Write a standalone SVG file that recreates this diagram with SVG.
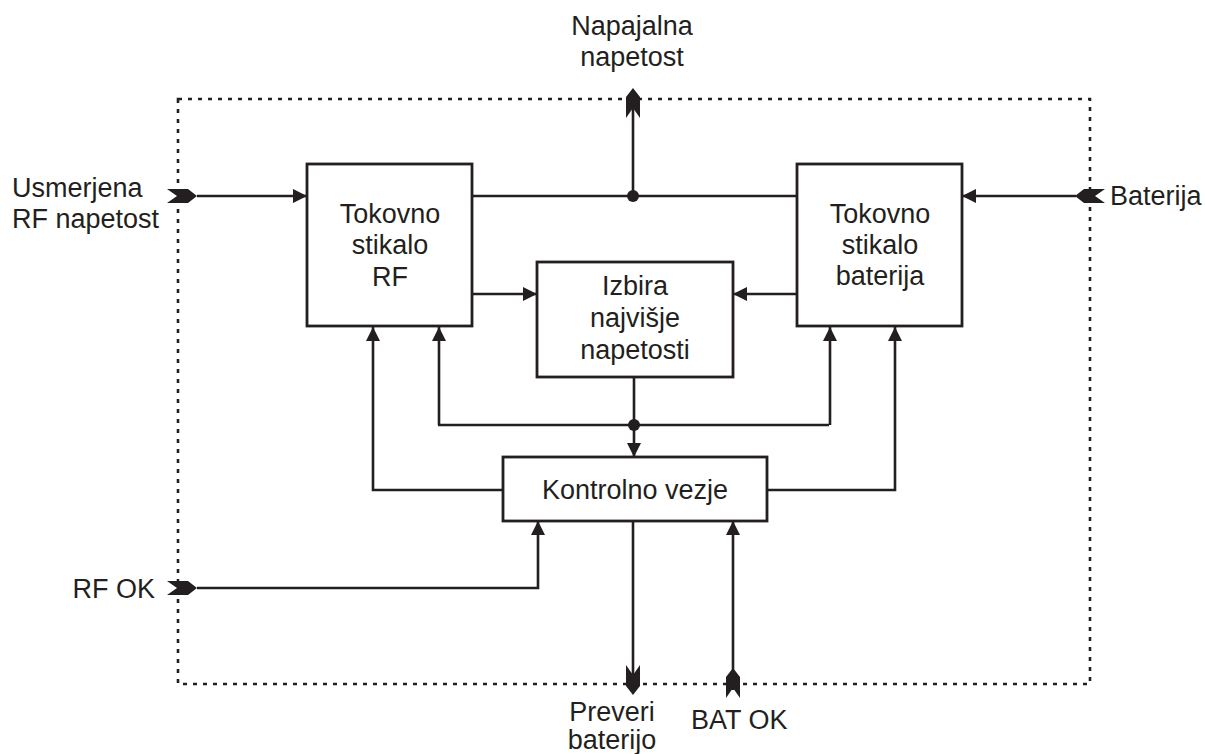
<svg xmlns="http://www.w3.org/2000/svg" width="1205" height="754" viewBox="0 0 1205 754">
<style>
.box{fill:#fff;stroke:#231f20;stroke-width:2.8}
.ln{fill:none;stroke:#231f20;stroke-width:2.6}
.bd{fill:none;stroke:#231f20;stroke-width:2.6;stroke-dasharray:4 6}
text{font-family:"Liberation Sans",Arial,sans-serif;font-size:27px;fill:#231f20}
.c{text-anchor:middle}
.e{text-anchor:end}
.dot{fill:#231f20}
.port{fill:#231f20}
</style>
<defs>
<marker id="ah" viewBox="0 0 14 14" refX="14" refY="7" markerWidth="14" markerHeight="14" markerUnits="userSpaceOnUse" orient="auto"><path d="M0,0 L14,7 L0,14 z" fill="#231f20"/></marker>
<path id="port" d="M0,0 L-9,-7 L-30,-7 L-20,0 L-30,7 L-9,7 z"/>
</defs>
<rect class="bd" x="178" y="99" width="912" height="585"/>
<g id="connectors">
<line class="ln" x1="197" y1="196" x2="307" y2="196" marker-end="url(#ah)"/>
<line class="ln" x1="472" y1="196" x2="797" y2="196"/>
<line class="ln" x1="633" y1="196" x2="633" y2="100"/>
<line class="ln" x1="1076" y1="196" x2="962" y2="196" marker-end="url(#ah)"/>
<line class="ln" x1="472" y1="294" x2="537" y2="294" marker-end="url(#ah)"/>
<line class="ln" x1="797" y1="294" x2="733" y2="294" marker-end="url(#ah)"/>
<line class="ln" x1="634" y1="377" x2="634" y2="457" marker-end="url(#ah)"/>
<polyline class="ln" points="438,425 829,425"/>
<line class="ln" x1="439" y1="425" x2="439" y2="327" marker-end="url(#ah)"/>
<line class="ln" x1="830" y1="425" x2="830" y2="327" marker-end="url(#ah)"/>
<polyline class="ln" points="503,490 373,490 373,327" marker-end="url(#ah)"/>
<polyline class="ln" points="767,490 895,490 895,327" marker-end="url(#ah)"/>
<polyline class="ln" points="197,588 538,588 538,521" marker-end="url(#ah)"/>
<line class="ln" x1="633" y1="521" x2="633" y2="690"/>
<line class="ln" x1="733" y1="690" x2="733" y2="521" marker-end="url(#ah)"/>
<circle class="dot" cx="633" cy="196" r="6"/>
<circle class="dot" cx="634" cy="425" r="6"/>
<use href="#port" class="port" transform="translate(197,196)"/>
<use href="#port" class="port" transform="translate(1075,196) rotate(180)"/>
<use href="#port" class="port" transform="translate(197,588)"/>
<use href="#port" class="port" transform="translate(633,88) rotate(-90)"/>
<use href="#port" class="port" transform="translate(633,695) rotate(90)"/>
<use href="#port" class="port" transform="translate(733,668) rotate(-90)"/>
</g>
<g id="rf-switch">
<rect class="box" x="307" y="164" width="165" height="162"/>
<text class="c" x="390" y="223">Tokovno</text>
<text class="c" x="390" y="254">stikalo</text>
<text class="c" x="390" y="286">RF</text>
</g>
<g id="bat-switch">
<rect class="box" x="797" y="164" width="165" height="162"/>
<text class="c" x="880" y="223">Tokovno</text>
<text class="c" x="880" y="254">stikalo</text>
<text class="c" x="880" y="285">baterija</text>
</g>
<g id="izbira">
<rect class="box" x="537" y="262" width="196" height="115"/>
<text class="c" x="635" y="295">Izbira</text>
<text class="c" x="635" y="327">najvišje</text>
<text class="c" x="635" y="359">napetosti</text>
</g>
<g id="kontrolno">
<rect class="box" x="503" y="457" width="264" height="64"/>
<text class="c" x="635" y="499">Kontrolno vezje</text>
</g>
<g id="labels">
<text class="c" x="632" y="35">Napajalna</text>
<text class="c" x="632" y="66">napetost</text>
<text x="12" y="197">Usmerjena</text>
<text x="12" y="228">RF napetost</text>
<text x="1110" y="205">Baterija</text>
<text class="e" x="155" y="598">RF OK</text>
<text class="c" x="612" y="721">Preveri</text>
<text class="c" x="612" y="749">baterijo</text>
<text x="691" y="729">BAT OK</text>
</g>
</svg>
